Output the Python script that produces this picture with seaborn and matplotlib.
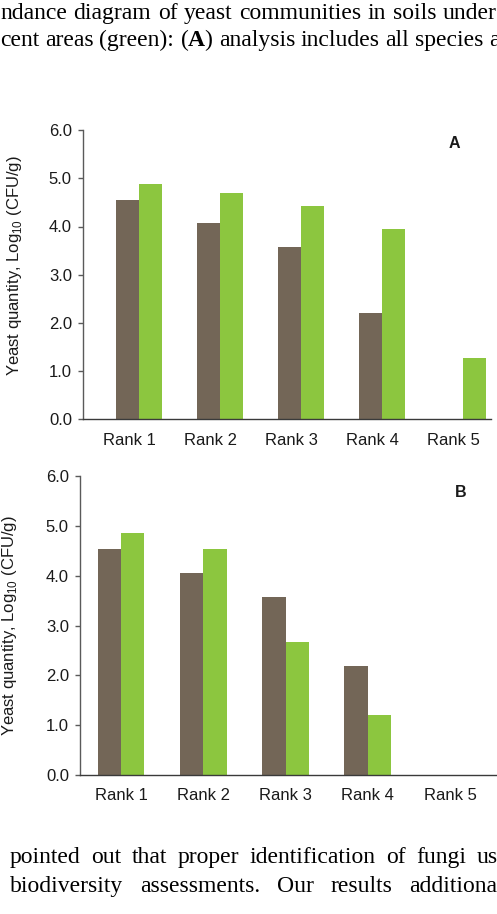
import numpy as np
import pandas as pd
import matplotlib
matplotlib.use("Agg")
import matplotlib.pyplot as plt
import matplotlib.transforms as mtransforms
import seaborn as sns

# ---------------- data ----------------
ranks = ["Rank 1", "Rank 2", "Rank 3", "Rank 4", "Rank 5"]
groups = ["Soil", "Adjacent"]
soil_A = [4.54, 4.07, 3.58, 2.21, np.nan]
adjacent_A = [4.88, 4.69, 4.43, 3.95, 1.27]
soil_B = [4.53, 4.05, 3.57, 2.19, np.nan]
adjacent_B = [4.85, 4.53, 2.66, 1.21, np.nan]
yticks = [0.0, 1.0, 2.0, 3.0, 4.0, 5.0, 6.0]
ytick_labels = ["0.0", "1.0", "2.0", "3.0", "4.0", "5.0", "6.0"]

top_line1 = "ndance diagram of yeast communities in soils under"
top_line2 = "cent areas (green): ($\\mathbf{A}$) analysis includes all species a"
bottom_line1 = "pointed out that proper identification of fungi us"
bottom_line2 = "biodiversity assessments. Our results additiona"

BROWN = "#736657"
GREEN = "#8cc63f"

sns.set_style("white")
plt.rcParams["font.family"] = ["Liberation Sans", "DejaVu Sans"]
plt.rcParams["mathtext.fontset"] = "custom"
plt.rcParams["mathtext.bf"] = "Liberation Serif:bold"
plt.rcParams["mathtext.rm"] = "Liberation Serif"

W, H = 497, 914
fig = plt.figure(figsize=(W / 100, H / 100), dpi=100)
fig.patch.set_facecolor("white")


def make_df(s, a):
    return pd.DataFrame({
        "rank": ranks * 2,
        "group": [groups[0]] * len(ranks) + [groups[1]] * len(ranks),
        "value": list(s) + list(a),
    }).dropna()


def px_axes(left, right, top, bottom):
    return fig.add_axes([left / W, 1 - bottom / H, (right - left) / W, (bottom - top) / H])


def style(ax, xlim, label_y, xshift_px):
    ax.set_xlim(*xlim)
    ax.set_ylim(0, 6)
    ax.set_yticks(yticks)
    ax.set_yticklabels(ytick_labels)
    ax.set_xlabel("")
    ax.set_ylabel("Yeast quantity, Log$_{\\mathregular{10}}$ (CFU/g)", fontsize=12, color="#1a1a1a")
    ax.yaxis.set_label_coords(-0.145, label_y)
    for s in ["top", "right"]:
        ax.spines[s].set_visible(False)
    ax.spines["left"].set_color("#5a5a5a")
    ax.spines["left"].set_linewidth(1.0)
    ax.spines["bottom"].set_color("#3a3a3a")
    ax.spines["bottom"].set_linewidth(1.0)
    ax.tick_params(axis="y", direction="out", length=3.8, width=1.0, color="#5a5a5a",
                   pad=4.2, labelsize=12, labelcolor="#1a1a1a", left=True)
    ax.tick_params(axis="x", length=0, pad=9.5, labelsize=12, labelcolor="#1a1a1a")
    if xshift_px:
        off = mtransforms.ScaledTranslation(xshift_px / 100, 0, fig.dpi_scale_trans)
        for lab in ax.get_xticklabels():
            lab.set_transform(lab.get_transform() + off)
    ax.grid(False)
    ax.set_facecolor("white")


# Panel A
axA = px_axes(83, 491, 130, 419.5)
sns.barplot(data=make_df(soil_A, adjacent_A), x="rank", y="value", hue="group",
            order=ranks, hue_order=groups, palette=[BROWN, GREEN], width=0.568,
            saturation=1, errorbar=None, legend=False, linewidth=0, ax=axA)
style(axA, (-0.691, 4.342), 0.53, -10)
axA.text(0.91, 0.952, "A", transform=axA.transAxes, ha="center", va="center",
         fontsize=11.5, fontweight="bold", color="#1a1a1a")

# Panel B
axB = px_axes(80, 500, 476, 775)
sns.barplot(data=make_df(soil_B, adjacent_B), x="rank", y="value", hue="group",
            order=ranks, hue_order=groups, palette=[BROWN, GREEN], width=0.567,
            saturation=1, errorbar=None, legend=False, linewidth=0, ax=axB)
style(axB, (-0.498, 4.607), 0.50, 0)
axB.text(0.906, 0.946, "B", transform=axB.transAxes, ha="center", va="center",
         fontsize=11.5, fontweight="bold", color="#1a1a1a")

# ---------------- surrounding page text (justified) ----------------
SERIF = ["Liberation Serif", "DejaVu Serif"]
FS = 17
renderer = fig.canvas.get_renderer()


def justified(line, x0, last_start, baseline):
    words = line.split(" ")
    arts = []
    widths = []
    for w in words:
        t = fig.text(0, 0, w, fontsize=FS, family=SERIF, va="baseline", ha="left", color="black")
        widths.append(t.get_window_extent(renderer).width)
        arts.append(t)
    n = len(words)
    gap = (last_start - x0 - sum(widths[:-1])) / (n - 1)
    x = x0
    for t, w in zip(arts, widths):
        t.set_position((x / W, 1 - baseline / H))
        x += w + gap


justified(top_line1, 0, 443, 19)
justified(top_line2, 0, 489, 46)
justified(bottom_line1, 10, 477, 863)
justified(bottom_line2, 10, 409, 892)

fig.savefig("out.png", dpi=100, facecolor="white")
